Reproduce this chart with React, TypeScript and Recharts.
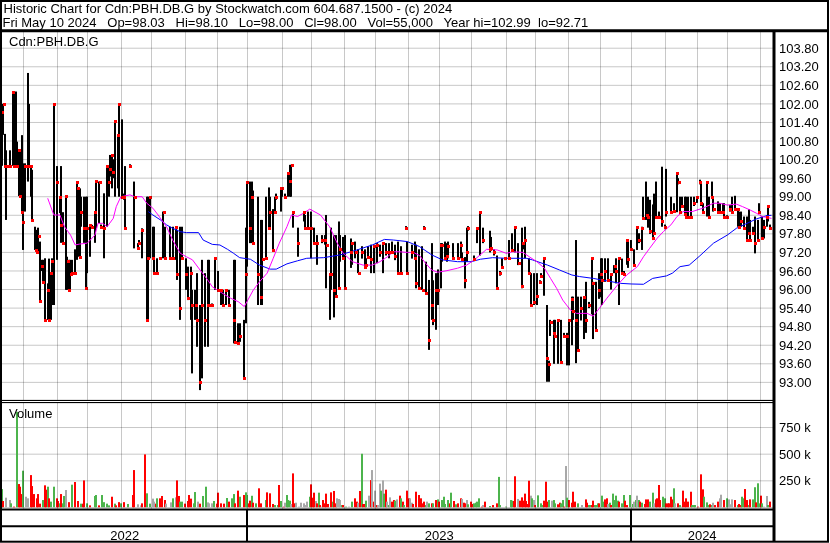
import {
  ComposedChart,
  Bar,
  Line,
  Scatter,
  XAxis,
  YAxis,
  CartesianGrid,
  Cell,
} from 'recharts';

const FONT = '"Liberation Sans", Arial, Helvetica, sans-serif';

const TITLE = 'Historic Chart for Cdn:PBH.DB.G by Stockwatch.com 604.687.1500 - (c) 2024';
const SUBTITLE =
  'Fri May 10 2024   Op=98.03   Hi=98.10   Lo=98.00   Cl=98.00   Vol=55,000   Year hi=102.99  lo=92.71';
const SYMBOL = 'Cdn:PBH.DB.G';

// x axis = trading day index, day 0 = May 10 2022
const DAY_DOMAIN = [0, 506];
const MONTH_STARTS = [14, 36, 56, 78, 98, 120, 141, 161, 183.5, 202.5, 224.5, 245, 266.5, 287, 308, 330.5, 350, 371.5, 392.5, 413, 435, 456, 476, 497.5];
const YEAR_BOUNDS = [0, 161, 413, 506];
const YEAR_LABELS = ['2022', '2023', '2024'];

const PRICE_DOMAIN = [92.43, 104.34];
const PRICE_TICKS = [93.0, 93.6, 94.2, 94.8, 95.4, 96.0, 96.6, 97.2, 97.8, 98.4, 99.0, 99.6, 100.2, 100.8, 101.4, 102.0, 102.6, 103.2, 103.8];
const VOLUME_DOMAIN = [0, 980];
const VOLUME_TICKS = [250, 500, 750];

// [day, high, low, close]
const PRICE_BARS = [
  [0,102.0,100.0,101.75],[1,102.0,101.0,101.99],[2,101.03,99.99,100.0],[3,100.5,98.25,100.0],[5,100.5,99.99,100.0],
  [7,102.4,100.0,102.4],[8,102.4,100.0,100.0],[9,102.4,100.0,100.0],[10,100.78,100.0,100.0],[11,100.51,99.02,100.51],
  [12,100.51,99.02,99.02],[13,100.99,98.47,98.5],[14,100.08,97.28,98.19],[15,100.08,98.52,100.0],[17,103.0,99.49,100.0],
  [18,102.0,99.99,100.0],[19,100.0,99.0,100.0],[20,99.87,98.25,98.25],[22,98.03,97.28,97.28],[23,97.93,97.22,97.22],
  [24,98.0,97.22,97.73],[25,97.55,95.64,95.64],[26,96.96,96.6,96.76],[27,96.96,96.25,96.25],[28,97.01,95.02,95.02],
  [30,96.2,95.02,96.0],[31,97.0,95.02,95.02],[32,96.53,95.02,96.53],[33,97.01,95.5,96.92],[34,101.99,95.5,101.99],
  [36,99.99,96.96,99.49],[38,99.0,98.47,99.0],[39,99.99,97.51,98.08],[40,98.5,97.51,97.51],[42,99.02,95.99,99.02],
  [43,97.06,95.99,96.92],[44,96.96,95.99,95.99],[45,96.96,96.0,96.5],[46,96.96,96.53,96.53],[48,97.3,96.53,96.53],
  [49,99.49,96.96,99.49],[50,99.27,97.06,99.27],[51,99.27,97.06,97.06],[52,99.0,98.03,98.5],[54,99.0,97.51,98.0],
  [55,99.0,96.04,96.04],[56,99.0,96.53,98.0],[58,98.09,97.06,98.09],[59,98.09,97.98,98.03],[61,98.52,97.51,98.52],
  [62,99.52,97.98,99.52],[64,99.49,98.14,99.49],[65,98.1,97.98,98.03],[67,99.11,97.01,98.0],[69,99.99,98.03,99.99],
  [70,99.99,99.0,99.49],[71,100.35,99.65,99.9],[72,100.35,99.27,100.35],[73,100.21,99.6,99.8],[74,101.46,99.0,101.46],
  [76,100.99,99.27,100.99],[77,101.99,99.0,101.99],[79,101.5,99.0,99.0],[80,99.1,98.9,99.0],[81,99.99,97.98,97.98],
  [84,100.05,99.95,99.99],[87,99.49,97.33,99.0],[89,97.5,97.33,97.33],[90,97.6,97.45,97.51],[92,97.98,97.01,97.93],
  [95,99.0,95.02,95.02],[96,99.0,95.02,97.01],[97,99.0,97.01,99.0],[99,98.03,97.01,97.01],[100,98.03,96.53,96.53],
  [102,97.01,96.53,96.53],[104,97.05,96.96,97.01],[106,98.52,97.01,98.52],[107,98.03,97.01,97.01],[110,98.03,97.01,97.01],
  [112,98.03,97.01,97.01],[114,98.03,96.96,98.03],[115,97.93,96.31,96.5],[117,98.03,95.02,95.39],[118,98.03,97.01,97.01],
  [121,97.01,95.99,96.5],[122,96.74,95.66,95.72],[124,96.74,95.02,96.53],[125,95.99,93.29,95.5],[127,95.99,95.02,95.5],
  [128,96.53,94.15,95.0],[130,95.5,92.75,93.02],[131,96.96,93.13,95.5],[133,96.53,94.15,95.0],[135,96.96,94.15,95.5],
  [136,96.96,95.5,95.5],[138,95.55,95.45,95.5],[140,97.01,95.99,97.01],[142,96.6,95.99,96.0],[144,95.99,95.5,95.99],
  [145,95.99,95.5,95.5],[147,95.99,95.5,95.99],[149,95.99,95.5,95.5],[152,96.96,94.26,95.0],[153,96.96,94.26,94.31],
  [155,94.91,94.26,94.26],[156,94.91,94.31,94.5],[159,95.02,93.13,93.13],[160,98.0,94.91,96.5],[161,99.49,96.74,99.49],
  [163,99.49,97.5,98.0],[164,99.49,97.5,99.0],[165,99.2,97.5,97.5],[168,99.0,95.5,96.5],[170,98.25,95.5,95.77],
  [171,98.25,95.5,97.0],[173,99.0,97.0,97.01],[175,99.3,98.0,98.0],[176,99.0,98.0,98.5],[178,98.6,97.28,97.28],
  [179,99.0,98.5,98.52],[180,99.1,98.9,99.0],[183,99.27,98.52,99.27],[184,99.27,99.0,99.27],[186,99.1,98.95,99.0],
  [188,99.76,99.0,99.76],[189,100.03,99.0,99.5],[190,100.03,99.0,100.03],[191,98.52,98.0,98.5],[194,98.0,97.06,97.5],
  [198,98.52,98.2,98.52],[199,98.41,98.0,98.0],[201,98.52,98.0,98.0],[203,98.52,97.01,98.0],[205,98.0,97.5,97.5],
  [207,97.76,96.8,97.5],[210,97.76,97.5,97.6],[212,97.76,97.45,97.6],[213,98.41,96.04,97.45],[215,96.53,95.02,96.5],
  [216,98.0,95.99,96.5],[218,97.76,95.1,96.0],[219,97.76,95.8,95.8],[221,98.2,96.04,96.04],[222,97.76,96.9,97.3],
  [224,97.7,97.0,97.01],[225,97.76,96.04,96.04],[229,97.65,96.7,97.2],[230,97.5,96.8,97.5],[232,97.55,97.01,97.2],
  [234,97.3,96.53,96.53],[236,97.4,97.0,97.2],[238,97.3,96.74,96.74],[239,97.01,96.7,96.8],[240,97.4,97.01,97.05],
  [242,97.45,96.53,97.0],[244,97.45,96.53,97.4],[246,97.5,96.85,97.45],[248,97.45,97.06,97.2],[250,97.5,96.53,97.5],
  [252,97.5,97.1,97.2],[254,97.5,97.01,97.2],[256,97.55,97.2,97.2],[258,97.45,96.95,97.1],[260,97.55,96.53,96.53],
  [262,97.4,96.5,96.53],[265,98.05,97.95,98.0],[266,97.55,96.53,96.53],[269,97.45,97.0,97.2],[271,97.55,97.0,97.01],
  [272,97.45,96.04,96.2],[274,97.3,96.04,96.04],[276,97.4,95.99,95.99],[277,98.05,97.95,98.0],[278,96.9,95.9,95.9],
  [280,96.31,94.05,94.37],[282,97.5,95.02,95.5],[283,96.3,94.85,95.02],[285,96.53,94.7,95.99],[286,96.65,95.5,96.0],
  [288,97.5,96.04,97.45],[289,97.5,96.9,97.45],[291,97.55,97.01,97.01],[292,97.5,96.9,97.1],[293,97.55,97.01,97.4],
  [296,97.5,97.01,97.01],[299,97.5,97.01,97.01],[301,97.55,97.01,97.45],[302,97.2,96.95,97.0],[304,97.05,96.04,96.3],
  [305,98.0,96.9,97.2],[306,98.05,97.9,98.0],[310,97.1,96.95,97.0],[312,98.0,97.5,98.0],[314,98.52,97.1,98.52],
  [316,98.0,97.5,97.6],[320,97.9,97.2,97.3],[321,97.7,97.3,97.35],[323,97.3,97.1,97.2],[325,97.1,96.0,96.04],
  [327,96.6,96.45,96.53],[328,97.01,96.7,96.72],[330,97.05,96.95,97.01],[333,97.6,97.01,97.01],[335,97.82,97.28,97.28],
  [337,98.03,97.2,98.03],[339,97.5,96.79,96.85],[341,98.0,96.04,96.1],[342,97.5,97.3,97.5],[343,98.03,97.01,97.6],
  [346,97.01,96.53,96.53],[347,96.53,95.5,95.5],[349,96.53,95.5,95.6],[351,96.53,95.5,95.8],[353,96.3,96.2,96.25],
  [354,96.53,96.4,96.45],[356,97.01,95.8,97.01],[358,95.5,93.02,93.8],[359,93.7,93.02,93.6],[360,95.02,94.5,94.95],
  [362,95.02,93.6,94.6],[363,95.02,94.5,94.5],[365,95.02,93.6,95.02],[367,95.02,93.6,93.65],[369,94.6,94.45,94.5],
  [371,94.6,93.55,94.5],[372,95.02,93.55,95.02],[374,95.77,94.2,95.7],[375,95.77,95.02,95.3],[377,97.6,93.62,95.02],
  [378,95.77,94.05,94.05],[380,95.77,95.0,95.4],[382,95.77,94.4,95.77],[383,96.25,94.6,95.0],[385,95.6,95.4,95.5],
  [387,97.01,95.2,97.01],[388,96.25,94.4,96.2],[390,96.25,94.7,94.7],[392,96.53,95.7,96.0],[393,97.01,95.75,96.5],
  [394,97.01,95.5,96.3],[396,97.01,96.25,96.6],[398,97.01,96.3,96.3],[400,96.53,96.0,96.5],[402,96.79,96.53,96.75],
  [403,97.01,96.2,96.6],[405,97.01,95.5,97.01],[407,97.0,96.5,96.55],[408,96.6,96.45,96.5],[410,97.6,96.8,97.6],
  [411,97.6,96.7,97.0],[413,97.6,97.28,97.3],[415,97.3,96.79,96.8],[417,98.03,97.28,98.03],[418,97.82,97.5,97.6],
  [420,98.03,97.28,98.0],[421,99.0,98.25,98.3],[423,99.49,98.25,98.4],[424,99.0,98.0,98.36],[425,98.9,97.8,97.9],
  [427,98.75,97.6,97.65],[428,99.1,97.82,97.82],[429,99.49,98.36,98.36],[431,98.52,98.36,98.36],[433,99.97,98.03,98.2],
  [435,98.1,97.95,98.03],[436,99.9,98.36,98.5],[439,99.0,98.52,98.52],[441,98.79,98.52,98.55],[443,99.76,98.5,99.76],
  [444,99.6,99.4,99.49],[445,99.0,98.52,98.52],[446,99.0,98.7,98.7],[448,99.0,98.45,98.45],[449,99.0,98.36,98.36],
  [450,99.0,98.36,98.36],[452,99.0,98.36,98.36],[454,99.0,98.7,98.8],[456,99.0,98.8,99.0],[458,99.55,99.4,99.49],
  [459,99.49,98.7,98.8],[460,98.79,98.52,98.52],[463,99.49,98.36,99.49],[464,99.0,98.36,98.36],[466,99.49,99.0,99.0],
  [467,99.0,98.52,98.6],[470,98.85,98.52,98.52],[471,98.79,98.52,98.52],[473,98.79,98.45,98.52],[474,98.79,98.36,98.36],
  [476,98.4,98.3,98.36],[478,98.73,98.52,98.6],[479,99.0,98.45,98.52],[481,99.03,98.6,98.6],[483,98.6,98.03,98.6],
  [484,98.52,98.03,98.03],[485,98.52,98.03,98.2],[487,98.36,97.98,98.0],[489,98.36,97.6,97.6],[490,98.6,97.82,97.82],
  [491,98.25,97.6,97.6],[493,98.03,97.82,97.82],[494,98.36,97.17,97.5],[496,98.25,97.6,97.6],[497,98.79,98.52,98.52],
  [499,98.36,97.65,97.65],[500,98.25,97.65,98.03],[502,98.4,98.03,98.36],[503,98.73,98.2,98.7],[504,98.1,98.0,98.0],
];

// [day, moving average]
const MA_FAST = [
  [30,98.95],[34,98.41],[38,98.41],[41,98.03],[45,97.76],[48,97.44],[51,97.47],[56,97.5],[61,97.76],[63,98.14],
  [66,98.14],[69,98.03],[73,98.3],[75,98.68],[78,99.0],[84,99.06],[87,99.0],[92,99.0],[95,98.79],[99,98.63],
  [102,98.44],[108,98.03],[112,97.6],[117,97.17],[121,97.06],[125,96.96],[130,96.63],[135,96.31],[138,96.09],[143,95.93],
  [150,95.72],[155,95.61],[159,95.45],[165,95.99],[169,96.25],[174,96.53],[178,97.01],[182,97.5],[187,98.03],[190,98.41],
  [194,98.36],[198,98.47],[202,98.6],[209,98.41],[215,98.03],[220,97.5],[224,97.17],[230,96.9],[237,96.79],[243,96.79],
  [248,96.9],[253,97.06],[257,97.22],[261,97.22],[266,97.2],[270,97.2],[274,97.1],[278,96.85],[282,96.63],[286,96.56],
  [292,96.61],[299,96.69],[305,96.79],[310,96.96],[315,97.17],[318,97.3],[325,97.28],[331,97.17],[335,97.22],[342,97.2],
  [346,97.06],[351,96.9],[356,96.69],[360,96.36],[364,96.04],[368,95.66],[373,95.34],[377,95.23],[384,95.23],[388,95.14],
  [392,95.39],[397,95.72],[404,96.15],[410,96.47],[417,96.74],[421,97.06],[425,97.33],[430,97.66],[434,97.87],[439,98.09],
  [443,98.36],[447,98.52],[453,98.52],[460,98.63],[467,98.79],[471,98.79],[476,98.73],[482,98.76],[486,98.68],[491,98.57],
  [495,98.47],[499,98.36],[505,98.3],
];
const MA_SLOW = [
  [96,98.52],[99,98.41],[104,98.25],[108,98.09],[112,97.98],[117,97.87],[121,97.84],[129,97.84],[132,97.6],[138,97.46],
  [143,97.44],[148,97.3],[152,97.17],[156,97.03],[163,96.98],[169,96.79],[176,96.66],[180,96.66],[187,96.83],[194,96.93],
  [200,97.01],[211,97.03],[222,97.12],[233,97.28],[243,97.44],[251,97.62],[257,97.6],[266,97.55],[274,97.39],[282,97.12],
  [289,96.96],[299,96.9],[308,96.9],[314,96.98],[322,97.03],[331,97.01],[344,97.01],[348,96.96],[358,96.79],[366,96.63],
  [374,96.47],[379,96.42],[388,96.36],[397,96.28],[406,96.2],[413,96.18],[421,96.17],[427,96.36],[436,96.44],[440,96.53],
  [445,96.74],[451,96.79],[458,97.09],[467,97.5],[476,97.76],[482,97.98],[489,98.14],[495,98.28],[502,98.39],[505,98.4],
];

// [day, volume in thousands, direction: 1 up, -1 down, 0 unchanged]
const VOLUME = [
  [0,173,1],[1,61,-1],[3,92,0],[5,70,0],[6,39,1],[8,8,-1],[10,897,1],[11,220,-1],[12,195,-1],[13,126,-1],[14,345,1],
  [16,101,0],[17,86,0],[19,304,-1],[20,201,-1],[21,126,-1],[23,86,-1],[24,126,-1],[25,36,-1],[27,70,1],[28,208,-1],
  [29,167,-1],[30,195,1],[31,86,-1],[32,55,1],[34,195,1],[36,86,-1],[37,61,-1],[38,39,1],[39,126,-1],[40,39,1],
  [41,108,1],[42,164,0],[44,50,-1],[46,214,1],[48,239,-1],[50,61,-1],[52,36,1],[53,36,-1],[54,254,-1],[56,39,1],
  [58,20,-1],[61,108,1],[62,117,1],[64,20,-1],[66,117,1],[67,50,1],[69,36,1],[70,20,1],[72,101,-1],[74,36,1],
  [75,20,-1],[77,50,-1],[78,39,1],[80,50,-1],[83,33,1],[86,117,-1],[87,351,-1],[89,30,0],[91,20,0],[92,39,-1],
  [94,498,-1],[95,133,1],[97,36,1],[99,83,0],[100,55,0],[101,36,-1],[102,86,1],[104,86,-1],[105,108,-1],[107,70,-1],
  [108,36,0],[111,48,0],[112,86,1],[114,95,0],[115,254,-1],[116,108,-1],[117,55,1],[118,55,1],[120,36,-1],[122,61,-1],
  [123,117,-1],[124,83,-1],[126,39,1],[127,145,1],[129,55,0],[130,36,-1],[132,108,1],[134,195,1],[135,48,0],[136,39,0],
  [138,39,0],[139,61,1],[141,36,-1],[142,139,-1],[144,39,-1],[146,36,-1],[148,89,1],[149,55,-1],[151,86,1],[152,126,1],
  [153,39,-1],[155,158,-1],[156,101,1],[159,117,-1],[160,142,1],[161,117,1],[162,39,-1],[163,64,-1],[164,110,1],[165,45,-1],
  [167,39,1],[169,180,-1],[170,39,-1],[173,70,1],[174,142,-1],[176,133,-1],[178,33,-1],[179,23,1],[181,23,1],[182,211,-1],
  [183,61,1],[185,8,-1],[186,45,0],[187,117,1],[188,70,1],[189,64,1],[190,33,0],[191,320,-1],[192,39,-1],[193,45,0],
  [195,8,0],[196,45,0],[198,39,0],[199,23,0],[200,55,0],[202,101,1],[203,217,-1],[204,92,-1],[205,139,-1],[206,61,0],
  [207,39,-1],[208,139,1],[209,23,-1],[210,8,0],[211,70,-1],[212,39,-1],[213,130,-1],[214,33,-1],[216,142,-1],[217,55,1],
  [218,155,-1],[219,39,-1],[220,86,0],[221,80,0],[222,70,0],[223,23,1],[224,23,-1],[226,8,1],[228,8,0],[230,55,1],
  [232,86,-1],[233,55,-1],[234,45,0],[235,155,-1],[236,504,1],[237,33,-1],[238,33,-1],[239,64,1],[241,111,0],[242,257,-1],
  [243,351,0],[244,55,-1],[245,158,0],[246,23,-1],[247,23,0],[248,224,0],[249,158,1],[250,254,0],[251,130,1],[252,167,-1],
  [253,55,0],[254,23,1],[255,95,0],[256,55,-1],[257,70,-1],[258,64,1],[259,76,0],[261,111,-1],[262,86,1],[263,55,-1],
  [264,23,1],[266,158,-1],[267,86,-1],[268,86,0],[269,45,0],[270,33,-1],[272,148,-1],[274,117,-1],[275,86,-1],[276,39,-1],
  [277,55,-1],[278,23,1],[279,55,0],[280,39,1],[282,39,-1],[283,39,1],[285,70,-1],[286,76,1],[287,55,-1],[289,70,1],
  [290,101,1],[291,33,1],[293,70,1],[294,39,-1],[295,139,1],[297,61,-1],[298,30,1],[299,39,-1],[301,86,-1],[302,80,0],
  [303,45,-1],[304,39,-1],[305,70,0],[306,30,1],[308,55,-1],[309,33,-1],[310,39,1],[311,45,1],[312,55,1],[313,86,1],
  [315,8,-1],[316,23,0],[317,55,-1],[320,14,1],[322,23,-1],[325,39,-1],[326,287,1],[327,23,1],[331,8,1],[334,70,1],
  [335,64,1],[336,61,-1],[337,293,-1],[339,80,0],[340,64,-1],[341,95,-1],[342,64,-1],[343,130,-1],[344,61,-1],[345,33,-1],
  [346,251,-1],[347,111,0],[348,86,1],[349,70,0],[350,23,-1],[352,114,1],[354,39,1],[355,23,1],[356,64,-1],[357,242,-1],
  [358,55,-1],[359,70,1],[361,64,0],[362,70,1],[363,39,1],[365,30,-1],[366,45,-1],[367,39,1],[368,70,1],[369,8,-1],
  [370,389,0],[371,92,1],[372,70,-1],[374,45,-1],[375,148,-1],[376,55,-1],[378,39,1],[381,23,0],[383,76,-1],[384,45,-1],
  [385,23,1],[386,23,1],[387,23,-1],[388,64,-1],[389,23,1],[390,23,1],[391,39,1],[392,39,-1],[394,111,1],[395,55,1],
  [396,76,-1],[397,86,-1],[398,33,0],[399,45,1],[400,23,-1],[401,130,1],[402,70,1],[403,111,1],[404,64,1],[405,55,-1],
  [407,39,1],[408,117,1],[409,64,-1],[410,23,-1],[412,117,1],[414,33,1],[415,55,0],[416,70,1],[417,111,0],[418,70,1],
  [419,55,-1],[420,45,1],[422,33,-1],[423,76,-1],[424,76,-1],[425,55,1],[427,139,1],[428,39,0],[429,76,-1],[430,86,-1],
  [431,211,-1],[432,70,-1],[434,101,1],[435,86,1],[436,39,-1],[437,39,-1],[438,39,-1],[439,101,-1],[440,76,-1],[441,180,1],
  [442,39,0],[444,39,-1],[445,23,1],[446,8,0],[447,158,-1],[448,55,-1],[449,86,-1],[450,55,-1],[452,148,-1],[453,23,1],
  [454,23,1],[455,23,1],[457,8,-1],[459,311,-1],[460,170,-1],[461,101,1],[463,48,1],[464,23,1],[465,30,-1],[466,23,1],
  [467,45,0],[468,23,-1],[470,55,-1],[471,86,0],[472,120,0],[474,70,-1],[476,86,1],[477,76,0],[478,30,0],[479,76,0],
  [481,70,-1],[483,23,1],[484,33,-1],[485,23,-1],[486,101,1],[487,86,1],[488,173,-1],[489,70,-1],[490,23,1],[491,76,-1],
  [493,76,1],[494,190,1],[495,48,-1],[496,227,1],[497,39,1],[498,111,-1],[499,39,1],[500,8,0],[502,108,0],[503,23,1],
  [504,55,-1],
];

const VOL_COLORS: Record<string, string> = { '-1': '#ff0000', '0': '#a8a8a8', '1': '#4cb44c' };
const GRID = '#c8c8c8';

// plot box shared by the panels (chart margins: left 2, right axis 57)
const PLOT_LEFT = 2;
const PLOT_WIDTH = 830 - PLOT_LEFT - 57;
const dayToX = (d: number) => PLOT_LEFT + ((d - DAY_DOMAIN[0]) / (DAY_DOMAIN[1] - DAY_DOMAIN[0])) * PLOT_WIDTH;

const priceRows = PRICE_BARS.map(([d, hi, lo, c]) => ({ d, hi, lo, c }));
const fastRows = MA_FAST.map(([d, v]) => ({ d, v }));
const slowRows = MA_SLOW.map(([d, v]) => ({ d, v }));
const volumeRows = VOLUME.map(([d, v, dir]) => ({ d, v, dir }));
const yearSeparators = YEAR_BOUNDS.slice(1, -1).map((d) => ({ d, span: [0, 1] }));
const yearLabels = YEAR_LABELS.map((label, i) => ({ d: (YEAR_BOUNDS[i] + YEAR_BOUNDS[i + 1]) / 2, y: 0, label }));

const tickStyle = { fill: '#000', fontSize: 13, fontFamily: FONT };

// a bar drawn as a pixel-aligned stick of fixed width, centred on its x slot
const stick = (w: number) => (props: any) => {
  const { x, y, width, height, fill } = props;
  if (x == null || y == null || Number.isNaN(x) || Number.isNaN(y)) return null;
  const top = height < 0 ? y + height : y;
  const h = Math.max(Math.abs(height || 0), 1);
  const left = Math.round(x + (width || 0) / 2 - w / 2);
  return <rect x={left} y={top} width={w} height={h} fill={fill} />;
};
const PriceStick = stick(2);
const VolumeStick = stick(2);

const CloseMark = (props: any) => {
  const { cx, cy } = props;
  if (cx == null || cy == null || Number.isNaN(cx) || Number.isNaN(cy)) return null;
  return <rect x={Math.round(cx) - 1} y={Math.round(cy) - 1} width={3} height={3} fill="#ff0000" />;
};

const YearLabel = (props: any) => {
  const { cx, cy, payload } = props;
  if (cx == null || cy == null) return null;
  return (
    <text x={cx} y={cy - 1.5} textAnchor="middle" fontSize={13} fill="#000" fontFamily={FONT}>
      {payload?.label}
    </text>
  );
};

const dayAxis = (
  <XAxis dataKey="d" type="number" domain={DAY_DOMAIN} allowDataOverflow height={0} tick={false} tickLine={false} axisLine={false} />
);

export default function App() {
  return (
    <div
      style={{
        position: 'absolute',
        left: 0,
        top: 0,
        width: 830,
        height: 543,
        background: '#fff',
        fontFamily: FONT,
      }}
    >
      <div style={{ position: 'absolute', left: 0, top: 0 }}>
        <ComposedChart
          width={830}
          height={402}
          data={priceRows}
          margin={{ top: 31.5, right: 0, bottom: 2, left: 2 }}
        >
          <CartesianGrid stroke={GRID} vertical={false} />
          {dayAxis}
          <YAxis
            orientation="right"
            type="number"
            domain={PRICE_DOMAIN}
            ticks={PRICE_TICKS}
            interval={0}
            allowDataOverflow
            width={57}
            tick={tickStyle}
            tickSize={0}
            tickMargin={6}
            tickLine={false}
            axisLine={false}
            tickFormatter={(v: number) => v.toFixed(2)}
          />
          <Bar dataKey={(r: any) => [r.lo, r.hi]} fill="#000" barSize={2} shape={PriceStick} isAnimationActive={false} />
          <Line data={slowRows} dataKey="v" stroke="#0000ff" strokeWidth={1} dot={false} isAnimationActive={false} />
          <Line data={fastRows} dataKey="v" stroke="#ff00ff" strokeWidth={1} dot={false} isAnimationActive={false} />
          <Scatter dataKey="c" shape={CloseMark} isAnimationActive={false} />
        </ComposedChart>
      </div>

      <div style={{ position: 'absolute', left: 0, top: 403 }}>
        <ComposedChart
          width={830}
          height={105}
          data={volumeRows}
          margin={{ top: 0, right: 0, bottom: 0.5, left: 2 }}
        >
          <CartesianGrid stroke={GRID} vertical={false} />
          {dayAxis}
          <YAxis
            orientation="right"
            type="number"
            domain={VOLUME_DOMAIN}
            ticks={VOLUME_TICKS}
            interval={0}
            allowDataOverflow
            width={57}
            tick={tickStyle}
            tickSize={0}
            tickMargin={6}
            tickLine={false}
            axisLine={false}
            tickFormatter={(v: number) => `${v} k`}
          />
          <Bar dataKey="v" barSize={2} shape={VolumeStick} isAnimationActive={false}>
            {volumeRows.map((r, i) => (
              <Cell key={i} fill={VOL_COLORS[String(r.dir)]} />
            ))}
          </Bar>
        </ComposedChart>
      </div>

      <div style={{ position: 'absolute', left: 0, top: 510 }}>
        <ComposedChart
          width={830}
          height={31}
          data={yearSeparators}
          margin={{ top: 0, right: 57, bottom: 0, left: 2 }}
        >
          <XAxis dataKey="d" type="number" domain={DAY_DOMAIN} allowDataOverflow hide />
          <YAxis type="number" domain={[0, 1]} allowDataOverflow hide />
          <Bar dataKey="span" fill="#000" barSize={2} shape={PriceStick} isAnimationActive={false} />
          <Scatter data={yearLabels} dataKey="y" shape={YearLabel} isAnimationActive={false} />
        </ComposedChart>
      </div>

      {/* month gridlines, multiplied over the panels so they read as lying behind the marks */}
      <svg
        width={830}
        height={543}
        style={{ position: 'absolute', left: 0, top: 0, pointerEvents: 'none', mixBlendMode: 'multiply' }}
      >
        {MONTH_STARTS.map((d) => {
          const x = Math.round(dayToX(d)) + 0.5;
          return (
            <g key={d}>
              <line x1={x} y1={31} x2={x} y2={400} stroke={GRID} strokeWidth={1} />
              <line x1={x} y1={403} x2={x} y2={509} stroke={GRID} strokeWidth={1} />
            </g>
          );
        })}
      </svg>

      <svg
        width={830}
        height={543}
        style={{ position: 'absolute', left: 0, top: 0, pointerEvents: 'none' }}
      >
        <rect x={1} y={1} width={827} height={540.7} fill="none" stroke="#000" strokeWidth={2} />
        <line x1={0} y1={30.8} x2={829} y2={30.8} stroke="#000" strokeWidth={3} />
        <line x1={774} y1={30} x2={774} y2={542} stroke="#000" strokeWidth={3} />
        <line x1={0} y1={400.5} x2={774} y2={400.5} stroke="#000" strokeWidth={1} />
        <line x1={0} y1={402.5} x2={774} y2={402.5} stroke="#000" strokeWidth={1} />
        <line x1={0} y1={509.5} x2={774} y2={509.5} stroke="#000" strokeWidth={2} />
        <line x1={0} y1={526.3} x2={774} y2={526.3} stroke="#000" strokeWidth={2} />
        <text x={3.5} y={13.3} fontSize={13} fill="#000" fontFamily={FONT}>
          {TITLE}
        </text>
        <text x={2.5} y={27} fontSize={13} fill="#000" fontFamily={FONT} style={{ whiteSpace: 'pre' }}>
          {SUBTITLE}
        </text>
        <text x={9} y={46} fontSize={13} fill="#000" fontFamily={FONT}>
          {SYMBOL}
        </text>
        <text x={9} y={417.5} fontSize={13} fill="#000" fontFamily={FONT}>
          Volume
        </text>
      </svg>
    </div>
  );
}
